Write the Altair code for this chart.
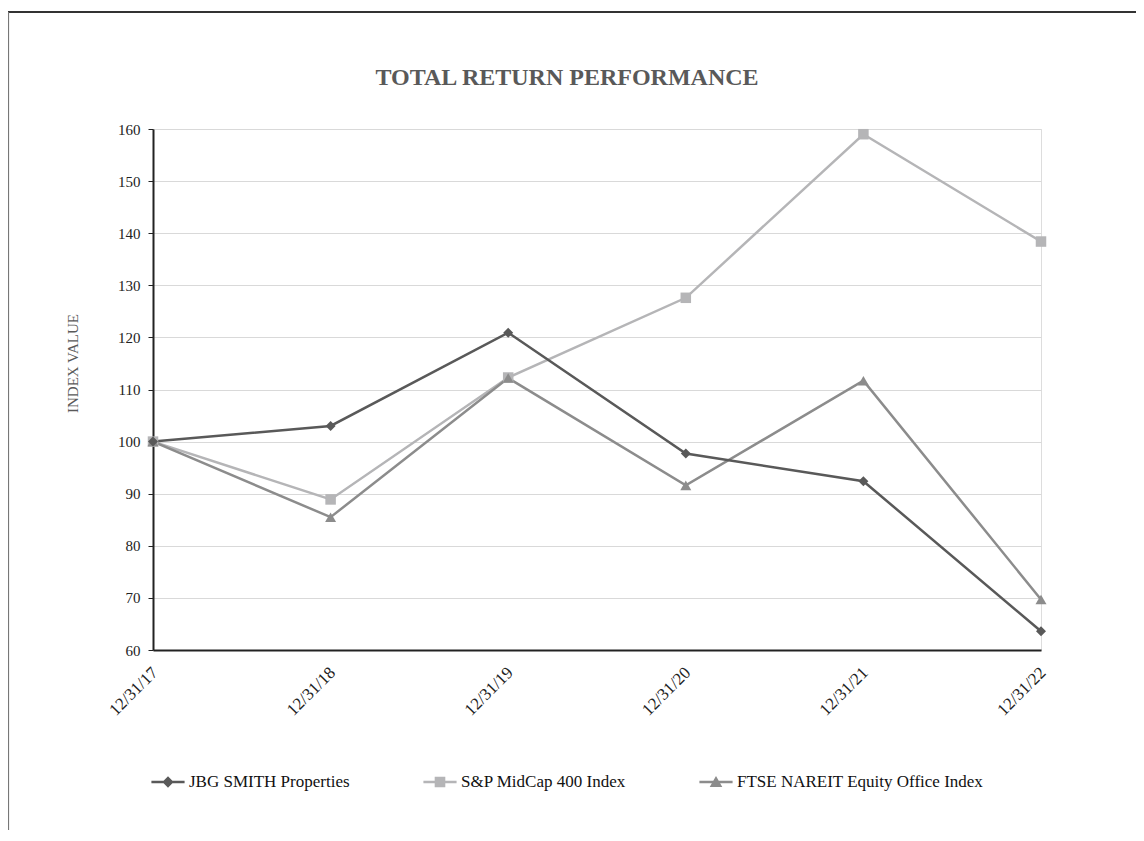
import altair as alt
import pandas as pd

dates = ["12/31/17", "12/31/18", "12/31/19", "12/31/20", "12/31/21", "12/31/22"]
series_names = ["JBG SMITH Properties", "S&P MidCap 400 Index", "FTSE NAREIT Equity Office Index"]
jbg = [100.0, 103.0, 120.9, 97.7, 92.4, 63.6]
sp400 = [100.0, 88.9, 112.3, 127.6, 159.0, 138.4]
ftse = [100.0, 85.5, 112.2, 91.6, 111.7, 69.7]
y_ticks = [60, 70, 80, 90, 100, 110, 120, 130, 140, 150, 160]
chart_title = "TOTAL RETURN PERFORMANCE"
y_title = "INDEX VALUE"

colors = ["#595959", "#b5b5b7", "#8c8c8c"]
shapes = ["diamond", "square", "triangle-up"]
marker_sizes = [100, 121, 150]
# legend symbols: line stub + marker (style only)
legend_shapes = [
    "M-1,-0.075H1V0.075H-1Z M0,-0.34L0.34,0L0,0.34L-0.34,0Z",
    "M-1,-0.075H1V0.075H-1Z M-0.32,-0.32H0.32V0.32H-0.32Z",
    "M-1,-0.075H1V0.075H-1Z M0,-0.36L0.38,0.3H-0.38Z",
]

rows = []
for name, vals in [(series_names[1], sp400), (series_names[2], ftse), (series_names[0], jbg)]:
    for d, v in zip(dates, vals):
        rows.append({"date": d, "series": name, "value": v})
df = pd.DataFrame(rows)

FONT = "Liberation Serif"

x_enc = alt.X(
    "date:O",
    sort=dates,
    scale=alt.Scale(type="point", padding=0),
    axis=alt.Axis(
        title=None,
        labelAngle=-45,
        labelFont=FONT,
        labelFontSize=17,
        labelColor="#222222",
        labelPadding=14,
        labelOffset=-4,
        ticks=False,
        tickSize=0,
        grid=False,
        domainColor="#222222",
        domainWidth=2,
    ),
)
y_enc = alt.Y(
    "value:Q",
    scale=alt.Scale(domain=[60, 160], nice=False, zero=False),
    axis=alt.Axis(
        values=y_ticks,
        title=y_title,
        titleFont=FONT,
        titleFontSize=15,
        titleFontWeight="normal",
        titleColor="#595959",
        titleAngle=-90,
        titleAlign="center",
        titleBaseline="bottom",
        titleX=-73,
        titleY=234,
        labelFont=FONT,
        labelFontSize=15,
        labelColor="#222222",
        labelPadding=8,
        tickSize=5,
        tickColor="#222222",
        grid=True,
        gridColor="#d9d9d9",
        gridWidth=1.2,
        domainColor="#222222",
        domainWidth=2,
    ),
)


def color_enc(legend):
    return alt.Color(
        "series:N",
        scale=alt.Scale(domain=series_names, range=colors),
        legend=legend,
    )


lines = alt.Chart(df).mark_line(strokeWidth=2.5).encode(
    x=x_enc, y=y_enc, color=color_enc(None), detail="series:N"
)

points = alt.Chart(df).mark_point(filled=True, opacity=1, strokeWidth=0).encode(
    x=x_enc,
    y=y_enc,
    color=color_enc(None),
    shape=alt.Shape("series:N", scale=alt.Scale(domain=series_names, range=shapes), legend=None),
    size=alt.Size("series:N", scale=alt.Scale(domain=series_names, range=marker_sizes), legend=None),
)

legend_kw = dict(
    title=None,
    orient="none",
    direction="horizontal",
    legendX=-2,
    legendY=636,
    symbolSize=1100,
    symbolStrokeWidth=0,
    symbolOpacity=1,
    labelFont=FONT,
    labelFontSize=17,
    labelColor="#111111",
    labelOffset=4,
    columnPadding=73,
    padding=0,
    labelLimit=400,
)

legend_layer = alt.Chart(df).mark_point(filled=True, strokeWidth=0).encode(
    x=x_enc,
    y=y_enc,
    opacity=alt.value(0),
    color=color_enc(alt.Legend(**legend_kw)),
    shape=alt.Shape(
        "series:N",
        scale=alt.Scale(domain=series_names, range=legend_shapes),
        legend=alt.Legend(**legend_kw),
    ),
)

one = alt.Data(values=[{"k": 1}])
frame_top = alt.Chart(one).mark_rule(color="#333333", strokeWidth=2).encode(
    x=alt.value(-145), x2=alt.value(1000), y=alt.value(-117)
)
frame_left = alt.Chart(one).mark_rule(color="#777777", strokeWidth=1.2).encode(
    x=alt.value(-144.5), y=alt.value(-117), y2=alt.value(720)
)
title_mark = alt.Chart(one).mark_text(
    text=chart_title,
    font=FONT,
    fontSize=24,
    fontWeight="bold",
    color="#595959",
    align="center",
    baseline="alphabetic",
).encode(x=alt.value(414), y=alt.value(-44))

chart = (
    alt.layer(frame_top, frame_left, title_mark, lines, points, legend_layer)
    .resolve_scale(color="independent", shape="independent", size="independent")
    .properties(
        width=888,
        height=521,
        autosize=alt.AutoSizeParams(type="none"),
        padding={"left": 145, "top": 121, "right": 95, "bottom": 180},
    )
    .configure_view(stroke="#595959", strokeWidth=1.2)
    .configure(font=FONT)
)

chart.save("out.html", embed_options={"renderer": "svg", "actions": False})
